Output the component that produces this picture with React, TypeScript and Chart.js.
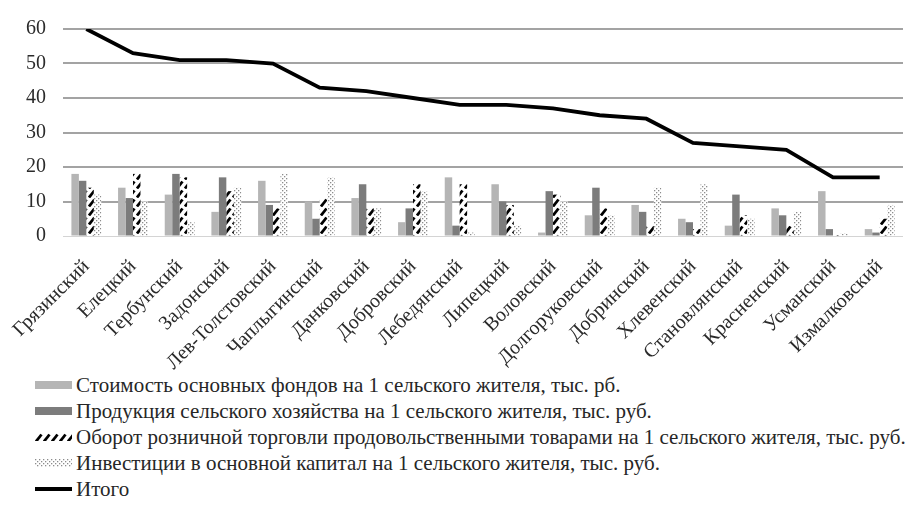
import React, { useEffect, useRef, useMemo } from 'react';
import { Chart, registerables } from 'chart.js';

Chart.register(...registerables);

const categories = [
  'Грязинский', 'Елецкий', 'Тербунский', 'Задонский', 'Лев-Толстовский', 'Чаплыгинский',
  'Данковский', 'Добровский', 'Лебедянский', 'Липецкий', 'Воловский', 'Долгоруковский',
  'Добринский', 'Хлевенский', 'Становлянский', 'Красненский', 'Усманский', 'Измалковский',
];

const fixedAssets = [18, 14, 12, 7, 16, 10, 11, 4, 17, 15, 1, 6, 9, 5, 3, 8, 13, 2];
const agriProduct = [16, 11, 18, 17, 9, 5, 15, 8, 3, 10, 13, 14, 7, 4, 12, 6, 2, 1];
const retailTurnover = [14, 18, 17, 13, 8, 11, 8, 15, 15, 9, 12, 8, 3, 2, 6, 3, 0.3, 5];
const investment = [12, 10, 4, 14, 18, 17, 8, 13, 1, 3, 10, 6, 14, 15, 5, 7, 0.8, 9];
const total = [60, 53, 51, 51, 50, 43, 42, 40, 38, 38, 37, 35, 34, 27, 26, 25, 17, 17];

const seriesLabels = [
  'Стоимость основных фондов на 1 сельского жителя, тыс. рб.',
  'Продукция сельского хозяйства на 1 сельского жителя, тыс. руб.',
  'Оборот розничной торговли продовольственными товарами на 1 сельского жителя, тыс. руб.',
  'Инвестиции в основной капитал на 1 сельского жителя, тыс. руб.',
  'Итого',
];

const FONT = '"Liberation Serif", "Times New Roman", serif';

function makeHatchTile(): HTMLCanvasElement {
  const c = document.createElement('canvas');
  c.width = 8;
  c.height = 9;
  const g = c.getContext('2d')!;
  g.fillStyle = '#ffffff';
  g.fillRect(0, 0, 8, 9);
  g.strokeStyle = '#000000';
  g.lineWidth = 2.8;
  g.beginPath();
  g.moveTo(1, 8.5);
  g.lineTo(6.5, 1.5);
  g.stroke();
  return c;
}

function makeDotTile(): HTMLCanvasElement {
  const c = document.createElement('canvas');
  c.width = 4;
  c.height = 4;
  const g = c.getContext('2d')!;
  g.fillStyle = '#ffffff';
  g.fillRect(0, 0, 4, 4);
  g.fillStyle = '#8c8c8c';
  g.fillRect(0, 0, 1.3, 1.3);
  g.fillRect(2, 2, 1.3, 1.3);
  return c;
}

export default function App() {
  const canvasRef = useRef<HTMLCanvasElement | null>(null);

  const swatchUrls = useMemo(() => {
    return { hatch: makeHatchTile().toDataURL(), dots: makeDotTile().toDataURL() };
  }, []);

  useEffect(() => {
    const canvas = canvasRef.current;
    if (!canvas) return;
    const ctx = canvas.getContext('2d')!;
    const hatch = ctx.createPattern(makeHatchTile(), 'repeat')!;
    const dots = ctx.createPattern(makeDotTile(), 'repeat')!;

    const chart = new Chart(canvas, {
      type: 'bar',
      data: {
        labels: categories,
        datasets: [
          { label: seriesLabels[0], data: fixedAssets, backgroundColor: '#b5b5b5', borderWidth: 0, order: 1 },
          { label: seriesLabels[1], data: agriProduct, backgroundColor: '#7c7c7c', borderWidth: 0, order: 1 },
          { label: seriesLabels[2], data: retailTurnover, backgroundColor: hatch as any, borderWidth: 0, order: 1 },
          { label: seriesLabels[3], data: investment, backgroundColor: dots as any, borderWidth: 0, order: 1 },
          {
            type: 'line' as const,
            label: seriesLabels[4],
            data: total,
            borderColor: '#000000',
            backgroundColor: '#000000',
            borderWidth: 3.8,
            pointRadius: 0,
            tension: 0,
            fill: false,
            order: 0,
          } as any,
        ],
      },
      options: {
        animation: false,
        responsive: true,
        maintainAspectRatio: false,
        layout: { padding: { top: 24, right: 10, left: 0, bottom: 0 } },
        plugins: {
          legend: { display: false },
          tooltip: { enabled: false },
        },
        datasets: {
          bar: { categoryPercentage: 0.64, barPercentage: 1.0 },
        },
        scales: {
          x: {
            grid: { display: false },
            border: { display: false },
            ticks: {
              autoSkip: false,
              minRotation: 45,
              maxRotation: 45,
              padding: 11,
              color: '#2b2b2b',
              font: { family: FONT, size: 20 },
            },
            afterFit: (s: any) => {
              s.height = 136;
            },
          },
          y: {
            min: 0,
            max: 60,
            ticks: {
              stepSize: 10,
              padding: 17,
              color: '#2b2b2b',
              font: { family: FONT, size: 20 },
            },
            grid: {
              drawTicks: false,
              color: (c: any) => (c.tick && c.tick.value === 0 ? '#d4d4d4' : '#a3a3a3'),
              lineWidth: (c: any) => (c.tick && c.tick.value === 0 ? 1 : 2),
            },
            border: { display: false },
            afterFit: (s: any) => {
              s.width = 63;
            },
          },
        },
      },
    });
    return () => chart.destroy();
  }, []);

  const swatchBase: React.CSSProperties = { width: 37, height: 8, marginRight: 4, flex: '0 0 auto' };
  const swatches: React.CSSProperties[] = [
    { ...swatchBase, background: '#b5b5b5' },
    { ...swatchBase, background: '#7c7c7c' },
    { ...swatchBase, backgroundImage: `url(${swatchUrls.hatch})` },
    { ...swatchBase, backgroundImage: `url(${swatchUrls.dots})` },
    { ...swatchBase, height: 4, background: '#000000' },
  ];

  return (
    <div
      style={{
        position: 'absolute',
        left: 0,
        top: 0,
        width: 913,
        height: 511,
        background: '#ffffff',
        fontFamily: FONT,
        overflow: 'hidden',
      }}
    >
      <div style={{ position: 'absolute', left: 0, top: 0, width: 913, height: 372 }}>
        <canvas ref={canvasRef} />
      </div>
      <div style={{ position: 'absolute', left: 35, top: 372 }}>
        {seriesLabels.map((label, i) => (
          <div
            key={label}
            style={{ display: 'flex', alignItems: 'center', height: 26, whiteSpace: 'nowrap' }}
          >
            <div style={swatches[i]} />
            <span style={{ fontSize: 21, color: '#262626', lineHeight: '26px' }}>{label}</span>
          </div>
        ))}
      </div>
    </div>
  );
}
